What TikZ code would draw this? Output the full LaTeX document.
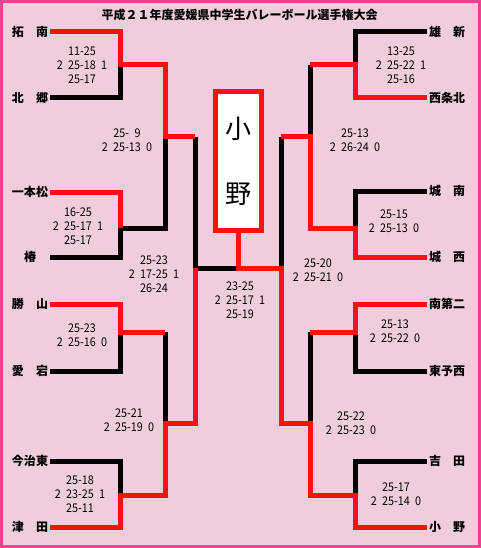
\documentclass[tikz,border=0pt]{standalone}
\usepackage{fontspec}
\setmainfont{Noto Sans CJK JP}
\newfontfamily\scorefont[WordSpace=2.2, FakeStretch=0.9]{Noto Sans CJK JP}
\usetikzlibrary{positioning}
\definecolor{bgpink}{RGB}{240,205,221}
\definecolor{framepink}{RGB}{232,70,140}
\definecolor{winred}{RGB}{255,16,16}
\tikzset{
  team/.style={inner sep=0pt, minimum width=40pt, font=\fontsize{12}{14}\selectfont\bfseries},
  score/.style={align=center, inner sep=0pt, font=\scorefont\fontsize{12}{14.2}\selectfont},
  lose/.style={line width=5pt, black, line join=miter},
  win/.style={line width=5pt, winred, line join=miter},
}

\begin{document}
\begin{tikzpicture}[x=1pt, y=-1pt]
  \useasboundingbox (0,0) rectangle (481,548);
  \draw[line width=3pt, draw=framepink, fill=bgpink] (1.5,1.5) rectangle (479.5,546.5);
  \node[font=\fontsize{12}{14}\selectfont\bfseries] (title) at (239.5,15) {平成２１年度愛媛県中学生バレーボール選手権大会};

  % left block
  \node[team] (takunan) at (30,32) {拓　南};
  \node[team] (hokugo) at (30,98) {北　郷};
  \node[team] (ippon) at (30,192) {一本松};
  \node[team] (tsubaki) at (30,257) {椿};
  \node[team] (katsuyama) at (30,304) {勝　山};
  \node[team] (atago) at (30,371) {愛　宕};
  \node[team] (imabari) at (30,461) {今治東};
  \node[team] (tsuda) at (30,527) {津　田};
  % right block
  \node[team] (yushin) at (447,32) {雄　新};
  \node[team] (saijo) at (447,98) {西条北};
  \node[team] (jonan) at (447,191) {城　南};
  \node[team] (josei) at (447,257) {城　西};
  \node[team] (nandai) at (447,304) {南第二};
  \node[team] (toyo) at (447,371) {東予西};
  \node[team] (yoshida) at (447,461) {吉　田};
  \node[team] (ono) at (447,527) {小　野};

  \coordinate (L1) at (120,65);  \coordinate (L2) at (120,228);
  \coordinate (L3) at (120,332); \coordinate (L4) at (120,495);
  \coordinate (LA) at (165,137); \coordinate (LM) at (165,332);
  \coordinate (LB) at (165,423);
  \coordinate (LA2) at (195,137); \coordinate (LB2) at (195,423);
  \coordinate (LS) at (195,268);
  \coordinate (R1) at (355,65);  \coordinate (R2) at (355,228);
  \coordinate (R3) at (355,332); \coordinate (R4) at (355,495);
  \coordinate (RT) at (310,65);  \coordinate (RA) at (310,137);
  \coordinate (RM) at (310,332); \coordinate (RB) at (310,423);
  \coordinate (RA2) at (281,137); \coordinate (RB2) at (281,423);
  \coordinate (RS) at (281,268);
  \coordinate (F) at (238.5,268);

  \node[draw=winred, line width=5pt, fill=white, minimum width=46pt, minimum height=139pt,
        inner sep=0pt, align=center, font=\fontsize{26}{65}\selectfont] (champ) at (238.5,161) {小\\野};

  % losers first, winners drawn over them
  \draw[lose] (hokugo.east) -| (L1);
  \draw[lose] (tsubaki.east) -| (L2) -| (LA);
  \draw[lose] (atago.east) -| (L3);
  \draw[lose] (LM) -- (LB);
  \draw[lose] (imabari.east) -| (L4);
  \draw[lose] (LA2) -- (LS) -- (F);
  \draw[lose] (yushin.west) -| (R1);
  \draw[lose] (RT) -- (RA);
  \draw[lose] (jonan.west) -| (R2);
  \draw[lose] (RA2) -- (RS);
  \draw[lose] (toyo.west) -| (R3);
  \draw[lose] (RM) -- (RB);
  \draw[lose] (yoshida.west) -| (R4);

  \draw[win] (takunan.east) -| (L1) -| (LA) -- (LA2);
  \draw[win] (ippon.east) -| (L2);
  \draw[win] (katsuyama.east) -| (L3) -- (LM);
  \draw[win] (tsuda.east) -| (L4) -| (LB) -- (LB2) -- (LS);
  \draw[win] (saijo.west) -| (R1) -- (RT);
  \draw[win] (josei.west) -| (R2) -| (RA) -- (RA2);
  \draw[win] (nandai.west) -| (R3) -- (RM);
  \draw[win] (ono.west) -| (R4) -| (RB) -- (RB2) -- (RS) -- (F) -- (champ.south);

  % set scores
  \node[score] (s1) at (82,65) {11-25\\2 25-18 1\\25-17};
  \node[score] (s2) at (78,226) {16-25\\2 25-17 1\\25-17};
  \node[score] (s3) at (82,335) {25-23\\2 25-16 0};
  \node[score] (s4) at (80,494) {25-18\\2 23-25 1\\25-11};
  \node[score] (q1) at (127,140) {25- 9\\2 25-13 0};
  \node[score] (q2) at (129,420) {25-21\\2 25-19 0};
  \node[score] (sf1) at (154,274) {25-23\\2 17-25 1\\26-24};
  \node[score] (fin) at (240,300) {23-25\\2 25-17 1\\25-19};
  \node[score] (s5) at (401,65) {13-25\\2 25-22 1\\25-16};
  \node[score] (s6) at (394,221.5) {25-15\\2 25-13 0};
  \node[score] (s7) at (395,331.5) {25-13\\2 25-22 0};
  \node[score] (s8) at (396,494) {25-17\\2 25-14 0};
  \node[score] (q3) at (355,140) {25-13\\2 26-24 0};
  \node[score] (q4) at (351,423) {25-22\\2 25-23 0};
  \node[score] (sf2) at (318,270) {25-20\\2 25-21 0};
\end{tikzpicture}
\end{document}
